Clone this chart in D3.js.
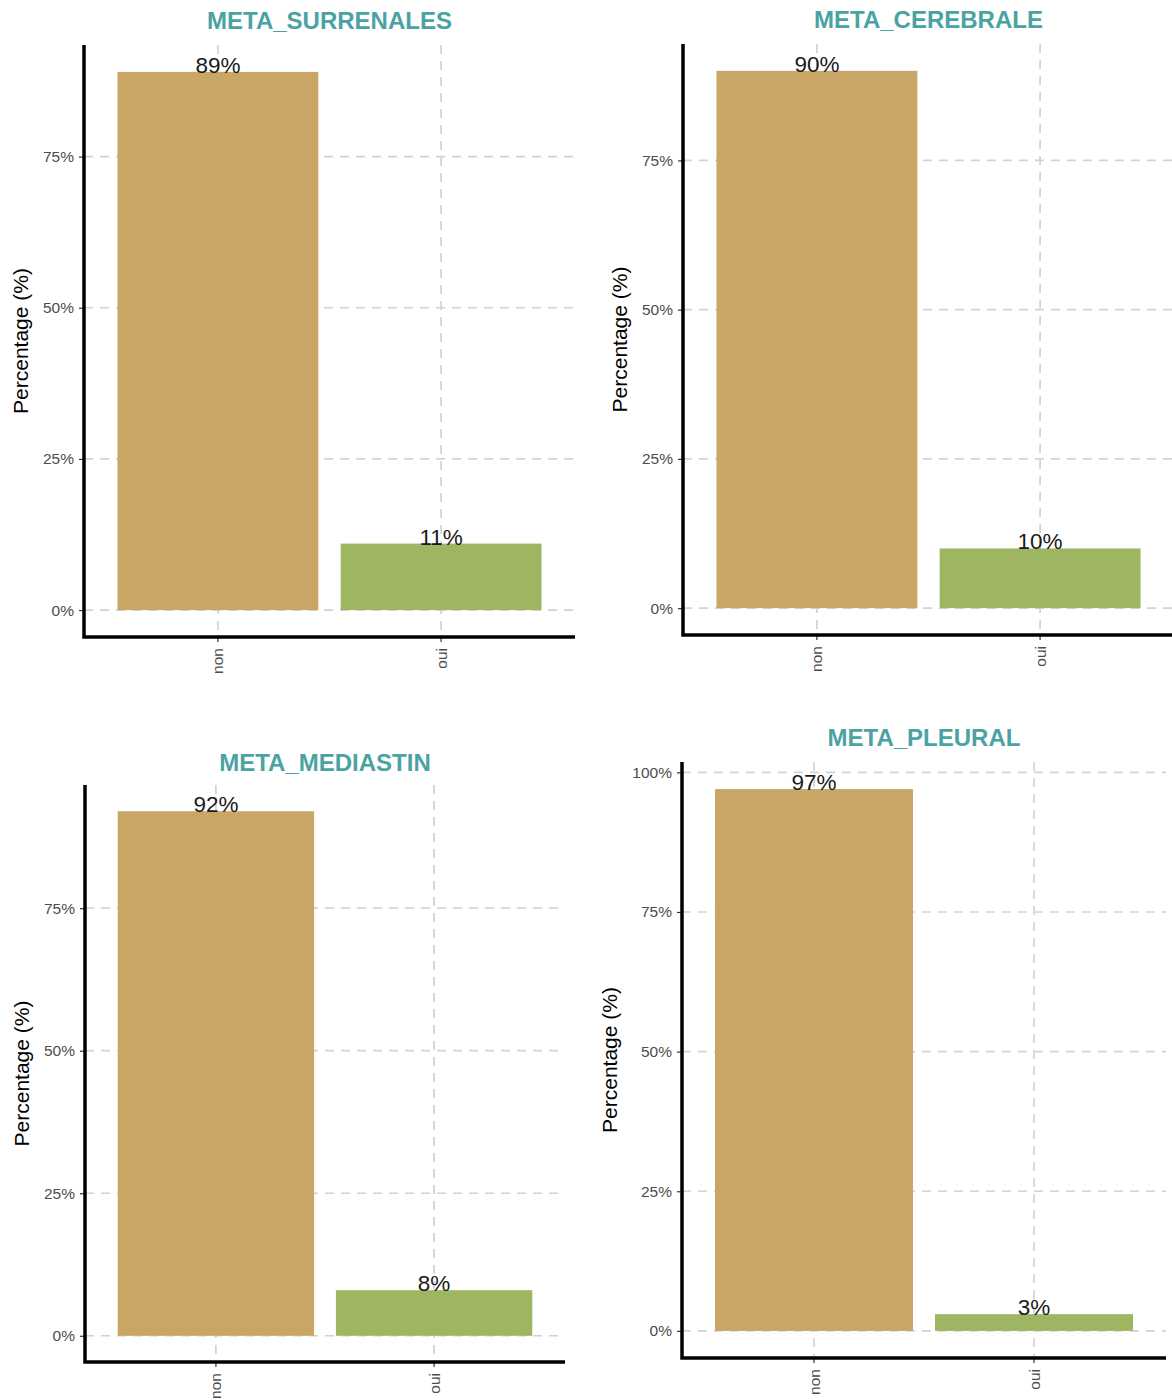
<!DOCTYPE html>
<html>
<head>
<meta charset="utf-8">
<script src="https://cdn.jsdelivr.net/npm/d3@7"></script>
<style>
  html, body { margin: 0; padding: 0; background: #fff; }
  svg { display: block; }
  text { font-family: "Liberation Sans", Arial, Helvetica, sans-serif; }
</style>
</head>
<body>
<svg id="chart" width="1172" height="1400"></svg>
<script>
// ---- data ----
const titles = ["META_SURRENALES", "META_CEREBRALE", "META_MEDIASTIN", "META_PLEURAL"];
const categories = ["non", "oui"];
const nonValues = [89, 90, 92, 97];
const ouiValues = [11, 10, 8, 3];
const yTickStep = 25;
const yAxisTitle = "Percentage (%)";

// ---- layout (positions / styles) ----
const layout = [
  { left: 84,  top: 45,  right: 575,  bottom: 637,  titleY: 29 },
  { left: 683, top: 44,  right: 1174, bottom: 635,  titleY: 27.5 },
  { left: 85,  top: 785, right: 565,  bottom: 1362, titleY: 771 },
  { left: 682, top: 762, right: 1166, bottom: 1358, titleY: 746 }
];
const barColors = { non: "#c9a665", oui: "#9eb662" };
const gridColor = "#d3d3d3";

const svg = d3.select("#chart");

titles.forEach((title, i) => {
  const L = layout[i];
  const values = [nonValues[i], ouiValues[i]];
  const maxV = d3.max(values);
  const g = svg.append("g");

  const x = d3.scaleBand()
    .domain(categories)
    .range([L.left, L.right])
    .paddingInner(0.1)
    .paddingOuter(0.15);

  const y = d3.scaleLinear()
    .domain([-0.05 * maxV, 1.05 * maxV])
    .range([L.bottom, L.top]);

  const yTicks = d3.range(0, 1.05 * maxV + 1e-9, yTickStep);

  // grid lines
  g.selectAll(".hgrid").data(yTicks).join("line")
    .attr("x1", L.left).attr("x2", L.right)
    .attr("y1", d => y(d)).attr("y2", d => y(d))
    .attr("stroke", gridColor).attr("stroke-width", 1.7)
    .attr("stroke-dasharray", "9,7");
  g.selectAll(".vgrid").data(categories).join("line")
    .attr("x1", d => x(d) + x.bandwidth() / 2).attr("x2", d => x(d) + x.bandwidth() / 2)
    .attr("y1", L.top).attr("y2", L.bottom)
    .attr("stroke", gridColor).attr("stroke-width", 1.7)
    .attr("stroke-dasharray", "9,7");

  // bars
  g.selectAll(".bar").data(categories).join("rect")
    .attr("x", d => x(d))
    .attr("width", x.bandwidth())
    .attr("y", (d, j) => y(values[j]))
    .attr("height", (d, j) => y(0) - y(values[j]))
    .attr("fill", d => barColors[d]);

  // value labels
  g.selectAll(".lbl").data(categories).join("text")
    .attr("x", d => x(d) + x.bandwidth() / 2)
    .attr("y", (d, j) => y(values[j]) + 1)
    .attr("text-anchor", "middle")
    .attr("font-size", 22.5)
    .attr("fill", "#1a1a1a")
    .text((d, j) => values[j] + "%");

  // y axis
  const yAxis = d3.axisLeft(y).tickValues(yTicks).tickSize(5).tickPadding(5)
    .tickFormat(d => d + "%");
  const ya = g.append("g").attr("transform", `translate(${L.left},0)`).call(yAxis);
  ya.select(".domain").remove();
  ya.selectAll(".tick line").attr("stroke", "#333").attr("stroke-width", 1.2);
  ya.selectAll(".tick text").attr("font-size", 15.5).attr("fill", "#4d4d4d")
    .attr("font-family", "'Liberation Sans', Arial, sans-serif");

  // x axis
  const xAxis = d3.axisBottom(x).tickSize(5).tickPadding(0);
  const xa = g.append("g").attr("transform", `translate(0,${L.bottom})`).call(xAxis);
  xa.select(".domain").remove();
  xa.selectAll(".tick line").attr("stroke", "#333").attr("stroke-width", 1.2);
  xa.selectAll(".tick text")
    .attr("font-size", 15.5).attr("fill", "#4d4d4d")
    .attr("font-family", "'Liberation Sans', Arial, sans-serif")
    .attr("text-anchor", "end")
    .attr("dy", null)
    .attr("y", null)
    .attr("dominant-baseline", "central")
    .attr("transform", "translate(0,11) rotate(-90)");

  // axis lines
  g.append("path")
    .attr("d", `M${L.left},${L.top} L${L.left},${L.bottom} L${L.right},${L.bottom}`)
    .attr("fill", "none").attr("stroke", "#000").attr("stroke-width", 3.5)
    .attr("stroke-linejoin", "miter");

  // y axis title
  let maxW = 0;
  ya.selectAll(".tick text").each(function () {
    maxW = Math.max(maxW, this.getComputedTextLength());
  });
  const labelX = L.left - 10 - maxW - 15;
  g.append("text")
    .attr("transform", `translate(${labelX},${(L.top + L.bottom) / 2}) rotate(-90)`)
    .attr("text-anchor", "middle")
    .attr("font-size", 21)
    .attr("fill", "#000")
    .text(yAxisTitle);

  // panel title
  g.append("text")
    .attr("x", (L.left + L.right) / 2)
    .attr("y", L.titleY)
    .attr("text-anchor", "middle")
    .attr("font-size", 24)
    .attr("font-weight", "bold")
    .attr("fill", "#4aa3a2")
    .text(title);
});
</script>
</body>
</html>
